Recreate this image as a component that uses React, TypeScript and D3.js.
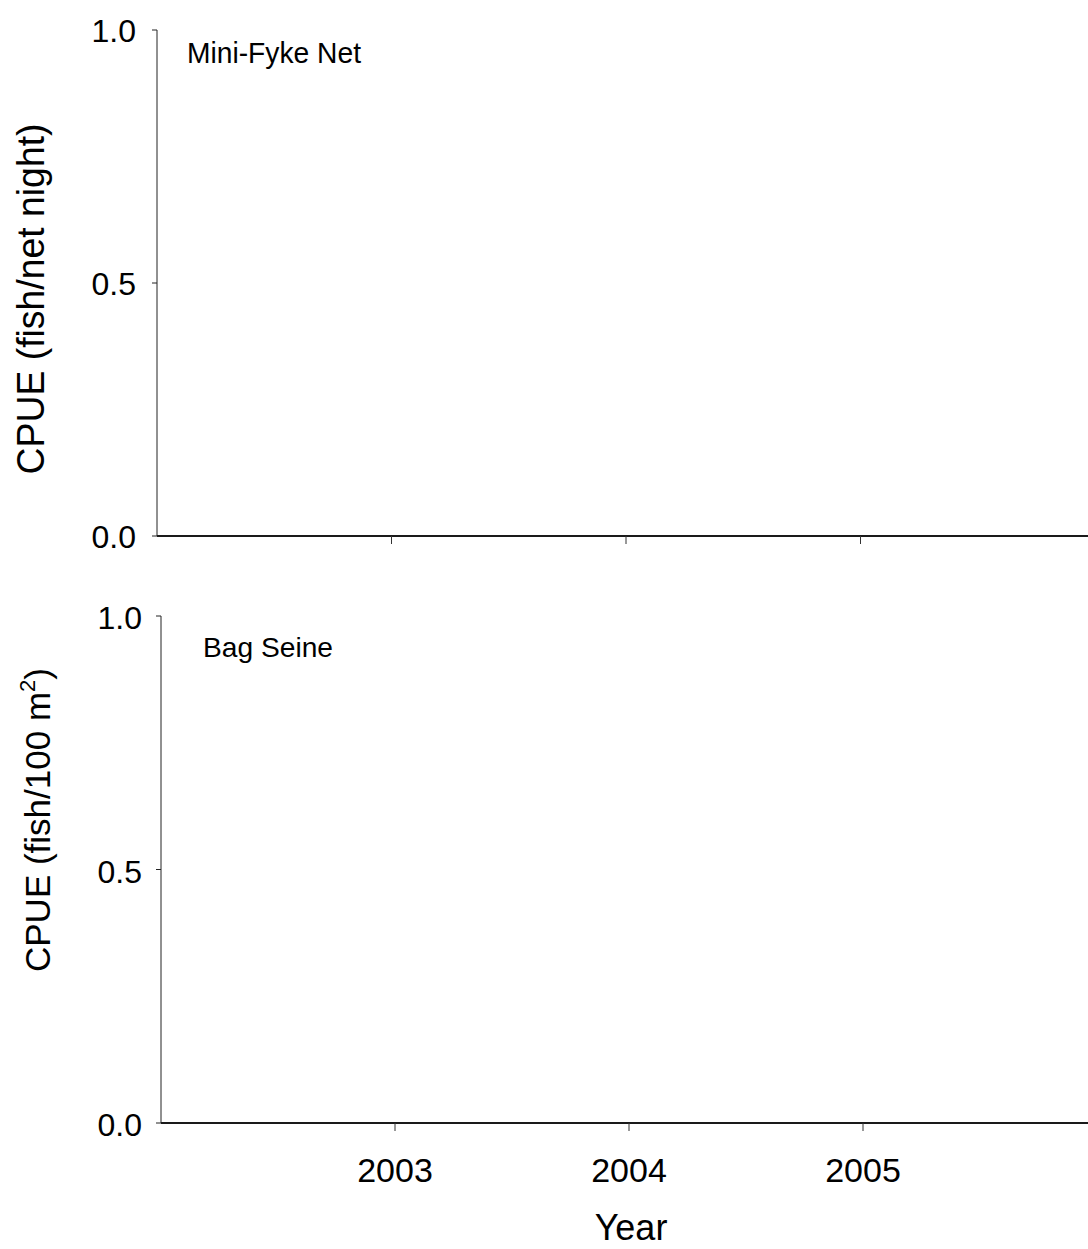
import React from "react";
import * as d3 from "d3";

const xDomain = [2002, 2006];
const yearTicks = [2003, 2004, 2005];
const yTickValues = [0, 0.5, 1.0];
const yDomain = [0, 1];
const panelNames = ["Mini-Fyke Net", "Bag Seine"];
const xTitle = "Year";

const FONT = "'Liberation Sans', Arial, Helvetica, sans-serif";

type Panel = {
  left: number;
  right: number;
  top: number;
  bottom: number;
  name: string;
  nameX: number;
  nameY: number;
  nameSize: number;
  nameLen: number;
  labelGap: number;
  labelDy: number;
  showYearLabels: boolean;
};

const panels: Panel[] = [
  { left: 157, right: 1095, top: 30, bottom: 536, name: panelNames[0], nameX: 187, nameY: 63, nameSize: 29, nameLen: 174, labelGap: 21, labelDy: 12, showYearLabels: false },
  { left: 161, right: 1097, top: 616, bottom: 1123, name: panelNames[1], nameX: 203, nameY: 657, nameSize: 28, nameLen: 130, labelGap: 19, labelDy: 13, showYearLabels: true },
];

function PanelView({ p }: { p: Panel }) {
  const x = d3.scaleLinear().domain(xDomain).range([p.left, p.right]);
  const y = d3.scaleLinear().domain(yDomain).range([p.bottom, p.top]);
  const fmt = d3.format(".1f");
  return (
    <g>
      <line x1={p.left} x2={p.left} y1={y(1)} y2={y(0)} stroke="#222" strokeWidth={1} />
      {yTickValues.map((v) => (
        <g key={v}>
          <line x1={p.left - 5} x2={p.left} y1={y(v)} y2={y(v)} stroke="#222" strokeWidth={1} />
          <text x={p.left - p.labelGap} y={y(v) + p.labelDy} textAnchor="end" fontSize={32} fontFamily={FONT} fill="#000">
            {fmt(v)}
          </text>
        </g>
      ))}
      <line x1={p.left} x2={p.right} y1={y(0)} y2={y(0)} stroke="#1a1a1a" strokeWidth={2} />
      {yearTicks.map((yr) => (
        <g key={yr}>
          <line x1={x(yr)} x2={x(yr)} y1={y(0)} y2={y(0) + 8} stroke="#333" strokeWidth={1} />
          {p.showYearLabels && (
            <text x={x(yr)} y={1182} textAnchor="middle" fontSize={34} fontFamily={FONT} fill="#000">
              {yr}
            </text>
          )}
        </g>
      ))}
      <text x={p.nameX} y={p.nameY} fontSize={p.nameSize} fontFamily={FONT} fill="#000" textLength={p.nameLen} lengthAdjust="spacingAndGlyphs">
        {p.name}
      </text>
    </g>
  );
}

export default function App() {
  return (
    <svg
      width={1088}
      height={1249}
      style={{ position: "absolute", left: 0, top: 0, background: "#fff", overflow: "hidden" }}
    >
      <rect x={0} y={0} width={1088} height={1249} fill="#fff" />
      {panels.map((p, i) => (
        <PanelView key={i} p={p} />
      ))}
      <text
        transform="translate(44,299) rotate(-90)"
        textAnchor="middle"
        fontSize={38}
        fontFamily={FONT}
        fill="#000"
        textLength={351}
        lengthAdjust="spacingAndGlyphs"
      >
        CPUE (fish/net night)
      </text>
      <text transform="translate(50,820) rotate(-90)" textAnchor="middle" fontSize={35} fontFamily={FONT} fill="#000">
        CPUE (fish/100 m
        <tspan fontSize={22} dy={-15}>2</tspan>
        <tspan dy={15}>)</tspan>
      </text>
      <text x={631} y={1240} textAnchor="middle" fontSize={36} fontFamily={FONT} fill="#000">
        {xTitle}
      </text>
    </svg>
  );
}
